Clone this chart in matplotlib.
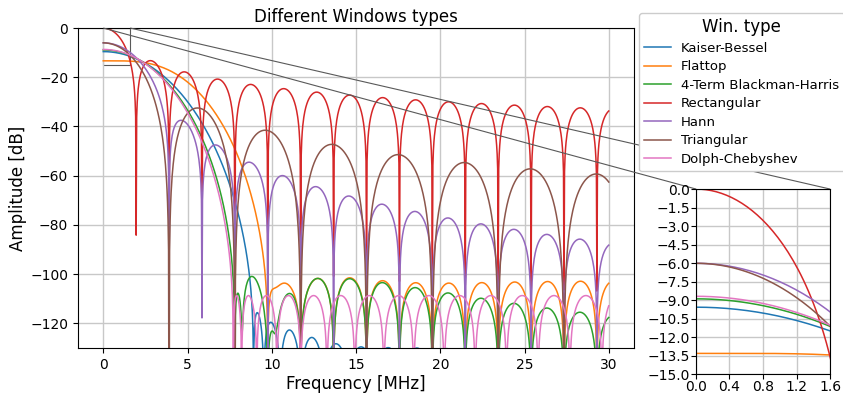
import numpy as np
import matplotlib
matplotlib.use("Agg")
import matplotlib.pyplot as plt
from mpl_toolkits.axes_grid1.inset_locator import mark_inset

# ========== CONFIG ==========
FS = 125.0            # sample rate [MHz]
N = 64                # window length
F_MAX = 30.0          # last plotted frequency [MHz]
OVERSAMPLE = 64       # grid points per FFT bin
GRID_OFFSET = 6.2e-5  # grid start, in bins
KAISER_BETA = 14.0
CHEB_ATTEN = 100.0    # dB
FLATTOP_COEFS = [0.21557895, 0.41663158, 0.277263158, 0.083578947, 0.006947368]
BH4_COEFS = [0.35875, 0.48829, 0.14128, 0.01168]

window_names = ["Kaiser-Bessel", "Flattop", "4-Term Blackman-Harris", "Rectangular",
                "Hann", "Triangular", "Dolph-Chebyshev"]

ZOOM_XLIM = (0.0, 1.6)
ZOOM_YLIM = (-15.0, 0.0)
zoom_xticks = [0.0, 0.4, 0.8, 1.2, 1.6]
zoom_yticks = [-15.0, -13.5, -12.0, -10.5, -9.0, -7.5, -6.0, -4.5, -3.0, -1.5, 0.0]
main_xticks = [0, 5, 10, 15, 20, 25, 30]
main_yticks = [-120, -100, -80, -60, -40, -20, 0]


# ========== WINDOWS ==========
def cosine_sum(coefs, n_pts):
    # DFT-even (periodic) cosine-sum window
    n = np.arange(n_pts)
    w = np.zeros(n_pts)
    for k, a in enumerate(coefs):
        w += (-1) ** k * a * np.cos(2 * np.pi * k * n / n_pts)
    return w


def chebwin(M, at):
    # symmetric Dolph-Chebyshev window
    order = M - 1.0
    beta = np.cosh(np.arccosh(10 ** (abs(at) / 20.0)) / order)
    k = np.arange(M)
    x = beta * np.cos(np.pi * k / M)
    p = np.zeros(M)
    big = x > 1
    small = x < -1
    mid = np.abs(x) <= 1
    p[big] = np.cosh(order * np.arccosh(x[big]))
    p[small] = (2 * (M % 2) - 1) * np.cosh(order * np.arccosh(-x[small]))
    p[mid] = np.cos(order * np.arccos(x[mid]))
    if M % 2:
        w = np.real(np.fft.fft(p))
        h = (M + 1) // 2
        w = w[:h]
        w = np.concatenate((w[h - 1:0:-1], w))
    else:
        p = p * np.exp(1j * np.pi / M * np.arange(M))
        w = np.real(np.fft.fft(p))
        h = M // 2 + 1
        w = np.concatenate((w[h - 1:0:-1], w[1:h]))
    return w / w.max()


windows = {
    "Kaiser-Bessel": np.kaiser(N + 1, KAISER_BETA)[:-1],
    "Flattop": cosine_sum(FLATTOP_COEFS, N),
    "4-Term Blackman-Harris": cosine_sum(BH4_COEFS, N),
    "Rectangular": np.ones(N),
    "Hann": cosine_sum([0.5, 0.5], N),
    "Triangular": np.bartlett(N + 1)[:-1],
    "Dolph-Chebyshev": chebwin(N, CHEB_ATTEN),
}

# ========== SPECTRA ==========
bin_width = FS / N
df = bin_width / OVERSAMPLE
freqs = GRID_OFFSET * bin_width + np.arange(0, int(F_MAX / df) + 1) * df
kernel = np.exp(-2j * np.pi * np.outer(freqs, np.arange(N)) / FS)

spectra = {}
for name in window_names:
    W = kernel @ windows[name] / N
    spectra[name] = 20 * np.log10(np.abs(W) + 1e-300)

# ========== PLOT ==========
plt.rcParams["font.family"] = "DejaVu Sans"
fig = plt.figure(figsize=(8.43, 3.93), dpi=100)
ax = fig.add_axes([0.0925, 0.1145, 0.6596, 0.8142])
axins = fig.add_axes([0.8256, 0.0483, 0.159, 0.4707])

lines = []
for name in window_names:
    ln, = ax.plot(freqs, spectra[name], lw=1.1, label=name)
    axins.plot(freqs, spectra[name], lw=1.1)
    lines.append(ln)

ax.set_ylim(-130, 0)
ax.set_xticks(main_xticks)
ax.set_yticks(main_yticks)
ax.grid(True, color="#c8c8c8", lw=1.0)
ax.tick_params(labelsize=10)
ax.set_xlabel("Frequency [MHz]", fontsize=12, labelpad=2)
ax.set_ylabel("Amplitude [dB]", fontsize=12, labelpad=2)
ax.set_title("Different Windows types", fontsize=12, pad=4)

axins.set_xlim(*ZOOM_XLIM)
axins.set_ylim(*ZOOM_YLIM)
axins.set_xticks(zoom_xticks)
axins.set_yticks(zoom_yticks)
axins.grid(True, color="#c8c8c8", lw=1.0)
axins.tick_params(labelsize=10, pad=1)

mark_inset(ax, axins, loc1=2, loc2=1, fc="none", ec="0.35", lw=0.8)

fig.legend(handles=lines, loc="upper left", bbox_to_anchor=(0.758, 0.967),
           borderaxespad=0, fontsize=9.5, title="Win. type", title_fontsize=12,
           labelspacing=0.42, framealpha=1.0)

fig.savefig("out.png", dpi=100)
